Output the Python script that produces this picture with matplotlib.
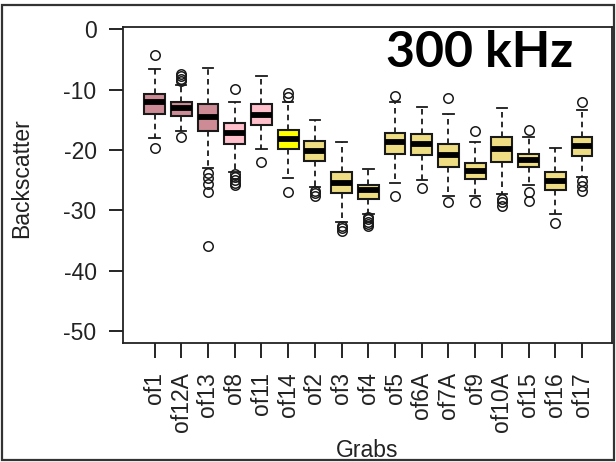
import matplotlib
matplotlib.use("Agg")
import matplotlib.pyplot as plt
from matplotlib.patches import Rectangle

plt.rcParams['font.family'] = ['Liberation Sans', 'DejaVu Sans']
plt.rcParams['lines.scale_dashes'] = False
plt.rcParams['axes.unicode_minus'] = False

# grab names and box stats (backscatter, dB)
names = ['of1', 'of12A', 'of13', 'of8', 'of11', 'of14', 'of2', 'of3', 'of4',
         'of5', 'of6A', 'of7A', 'of9', 'of10A', 'of15', 'of16', 'of17']
whishi = [-6.6, -9.2, -6.4, -12.1, -7.8, -12.1, -15.0, -18.6, -23.2,
          -12.1, -12.8, -14.0, -18.6, -13.0, -17.9, -19.7, -13.3]
q3 = [-10.7, -12.1, -12.4, -15.5, -12.4, -16.6, -18.5, -23.7, -25.8,
      -17.1, -17.4, -19.0, -22.2, -17.9, -20.6, -23.7, -17.8]
med = [-12.1, -13.1, -14.6, -17.2, -14.2, -18.2, -20.1, -25.5, -26.7,
       -18.6, -19.0, -20.8, -23.5, -19.8, -21.6, -25.2, -19.3]
q1 = [-14.0, -14.3, -16.8, -19.0, -15.8, -19.9, -21.9, -27.2, -28.2,
      -20.7, -20.9, -22.8, -24.8, -22.0, -22.8, -26.6, -21.0]
whislo = [-18.0, -16.9, -23.0, -23.6, -19.8, -24.7, -26.1, -31.9, -30.6,
          -25.5, -25.0, -27.7, -27.7, -27.3, -25.8, -30.6, -24.4]
fliers = [
    [-4.3, -19.6],
    [-7.4, -7.8, -8.2, -8.5, -17.8],
    [-23.8, -24.7, -25.6, -26.9, -35.9],
    [-9.8, -24.0, -24.5, -25.0, -25.4, -25.8],
    [-22.0],
    [-10.6, -11.2, -26.9],
    [-26.8, -27.2, -27.6],
    [-32.6, -33.0, -33.4],
    [-31.1, -31.5, -31.9, -32.2, -32.6],
    [-11.1, -27.7],
    [-26.3],
    [-11.3, -28.7],
    [-16.8, -28.7],
    [-28.2, -28.7, -29.2],
    [-16.7, -26.9, -28.4],
    [-32.1],
    [-12.0, -25.2, -26.0, -26.8],
]
colors = ['#CD8C95'] * 3 + ['#FFC0CB'] * 2 + ['#FFFF00'] + ['#EEDD82'] * 11

stats = []
for i in range(len(names)):
    stats.append({'label': names[i], 'med': med[i], 'q1': q1[i], 'q3': q3[i],
                  'whislo': whislo[i], 'whishi': whishi[i], 'fliers': fliers[i]})

fig = plt.figure(figsize=(6.16, 4.62), dpi=100)
ax = fig.add_axes([123 / 616, 1 - 343 / 462, (612 - 123) / 616, (343 - 27) / 462])

pos = list(range(1, len(names) + 1))
bp = ax.bxp(stats, positions=pos, widths=0.78, capwidths=0.39, patch_artist=True,
            boxprops=dict(edgecolor='#1a1a1a', linewidth=1.5),
            medianprops=dict(color='black', linewidth=4.2, solid_capstyle='butt'),
            whiskerprops=dict(color='#1a1a1a', linewidth=1.3, linestyle=(0, (4, 3))),
            capprops=dict(color='#1a1a1a', linewidth=1.3),
            flierprops=dict(marker='o', markersize=6.8, markerfacecolor='none',
                            markeredgecolor='#1a1a1a', markeredgewidth=1.1))
for patch, c in zip(bp['boxes'], colors):
    patch.set_facecolor(c)

ax.set_xlim(-0.18, 18.12)
ax.set_ylim(-52, 0.4)
ax.set_yticks([0, -10, -20, -30, -40, -50])
ax.set_xticks(pos)
ax.set_xticklabels(names, rotation=90, fontsize=16.5, color='#222222')
ax.tick_params(axis='y', labelsize=16.5, labelcolor='#222222', length=10, width=1.2, pad=9)
ax.tick_params(axis='x', length=11, width=1.2, pad=10)
for s in ax.spines.values():
    s.set_linewidth(1.3)
    s.set_color('#222222')

fig.text(22 / 616, 1 - 178 / 462, 'Backscatter', rotation=90, ha='center', va='center',
         fontsize=16.5, color='#222222')
fig.text(367 / 616, 1 - 457 / 462, 'Grabs', ha='center', va='baseline',
         fontsize=16.5, color='#222222')
fig.text(386 / 616, 1 - 67 / 462, '300 kHz', ha='left', va='baseline',
         fontsize=36, fontweight='bold', family='Lato')

# frame around the whole picture
fig.patches.append(Rectangle((2 / 616, 2 / 462), 612 / 616, 455 / 462, transform=fig.transFigure,
                             fill=False, edgecolor='#333333', linewidth=1.6))

fig.savefig('out.png', dpi=100)
